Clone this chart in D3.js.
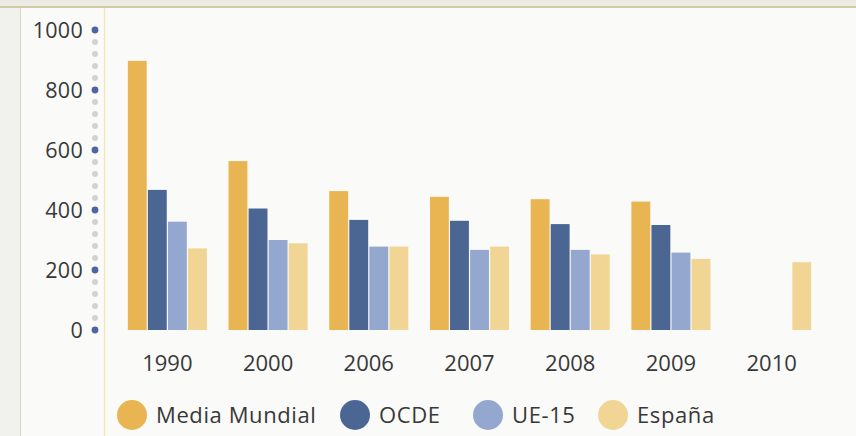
<!DOCTYPE html>
<html>
<head>
<meta charset="utf-8">
<script src="https://cdn.jsdelivr.net/npm/d3@7"></script>
<style>
  html, body { margin: 0; padding: 0; background: #fafaf8; }
  svg { display: block; }
  text { font-family: "Open Sans", "DejaVu Sans", sans-serif; fill: #383838; font-weight: 500; }
</style>
</head>
<body>
<svg id="chart" width="856" height="436"></svg>
<script>
// Years shown on the x axis
const years = ["1990", "2000", "2006", "2007", "2008", "2009", "2010"];
// Series names (legend order)
const seriesNames = ["Media Mundial", "OCDE", "UE-15", "España"];
// Values per series, one per year (null = no data)
const mediaMundial = [897, 563, 463, 444, 436, 428, null];
const ocde         = [467, 405, 367, 364, 353, 350, null];
const ue15         = [361, 300, 278, 267, 267, 258, null];
const espana       = [272, 289, 278, 278, 252, 237, 226];
// Axis ticks
const majorTicks = [0, 200, 400, 600, 800, 1000];
const minorStep = 40;

const seriesValues = [mediaMundial, ocde, ue15, espana];
const colors = ["#e9b452", "#4c6694", "#94a8cf", "#f1d595"];

const svg = d3.select("#chart");
const W = 856, H = 436;

// Page frame
svg.append("rect").attr("x", 0).attr("y", 0).attr("width", W).attr("height", 6).attr("fill", "#ecebe5");
svg.append("rect").attr("x", 0).attr("y", 6).attr("width", 20).attr("height", H).attr("fill", "#f1f1ee");
svg.append("line").attr("x1", 0).attr("x2", W).attr("y1", 7).attr("y2", 7)
  .attr("stroke", "#cfcca6").attr("stroke-width", 2);
svg.append("line").attr("x1", 20.5).attr("x2", 20.5).attr("y1", 8).attr("y2", H)
  .attr("stroke", "#d9d6bd").attr("stroke-width", 1);
svg.append("line").attr("x1", 104.5).attr("x2", 104.5).attr("y1", 8).attr("y2", H)
  .attr("stroke", "#efe9ad").attr("stroke-width", 1.2);

// Scales
const y = d3.scaleLinear().domain([0, 1000]).range([330, 30]);
const x = d3.scaleBand().domain(years).range([117, 822]).paddingInner(0.215).paddingOuter(0.1075);
const xs = d3.scaleBand().domain(seriesNames).range([0, x.bandwidth()]).paddingInner(0.06);

// Dotted value axis: grey minor dots, blue major dots
const axisX = 95;
const minorVals = d3.range(0, 1000 + 1, minorStep).filter(v => !majorTicks.includes(v));
svg.append("g").selectAll("circle").data(minorVals).join("circle")
  .attr("cx", axisX).attr("cy", d => y(d)).attr("r", 3).attr("fill", "#d3d3d3");
svg.append("g").selectAll("circle").data(majorTicks).join("circle")
  .attr("cx", axisX).attr("cy", d => y(d)).attr("r", 3.4).attr("fill", "#4d66a0");
svg.append("g").selectAll("text").data(majorTicks).join("text")
  .attr("x", 83).attr("y", d => y(d)).attr("dy", "0.36em")
  .attr("text-anchor", "end").attr("font-size", 21.5).attr("letter-spacing", 0.3).text(d => d);

// Bars
const groups = svg.append("g").selectAll("g").data(years).join("g")
  .attr("transform", d => `translate(${x(d)},0)`);
groups.selectAll("rect")
  .data((yr, i) => seriesNames.map((s, k) => ({ s, k, v: seriesValues[k][i] })).filter(d => d.v != null))
  .join("rect")
  .attr("x", d => xs(d.s)).attr("width", xs.bandwidth())
  .attr("y", d => y(d.v)).attr("height", d => y(0) - y(d.v))
  .attr("fill", d => colors[d.k]);

// Year labels
svg.append("g").selectAll("text").data(years).join("text")
  .attr("x", d => x(d) + x.bandwidth() / 2).attr("y", 363).attr("dy", "0.36em")
  .attr("text-anchor", "middle").attr("font-size", 22).text(d => d);

// Legend: swatch centres placed along the bottom row
const legendX = d3.scaleOrdinal().domain(seriesNames).range([132, 355, 488, 613]);
const legend = svg.append("g").attr("transform", "translate(0,415)");
const items = legend.selectAll("g").data(seriesNames).join("g")
  .attr("transform", d => `translate(${legendX(d)},0)`);
items.append("circle").attr("r", 15).attr("fill", (d, k) => colors[k]);
items.append("text").attr("x", 24).attr("dy", "0.36em")
  .attr("font-size", 22).attr("letter-spacing", 0.6).text(d => d);
</script>
</body>
</html>
